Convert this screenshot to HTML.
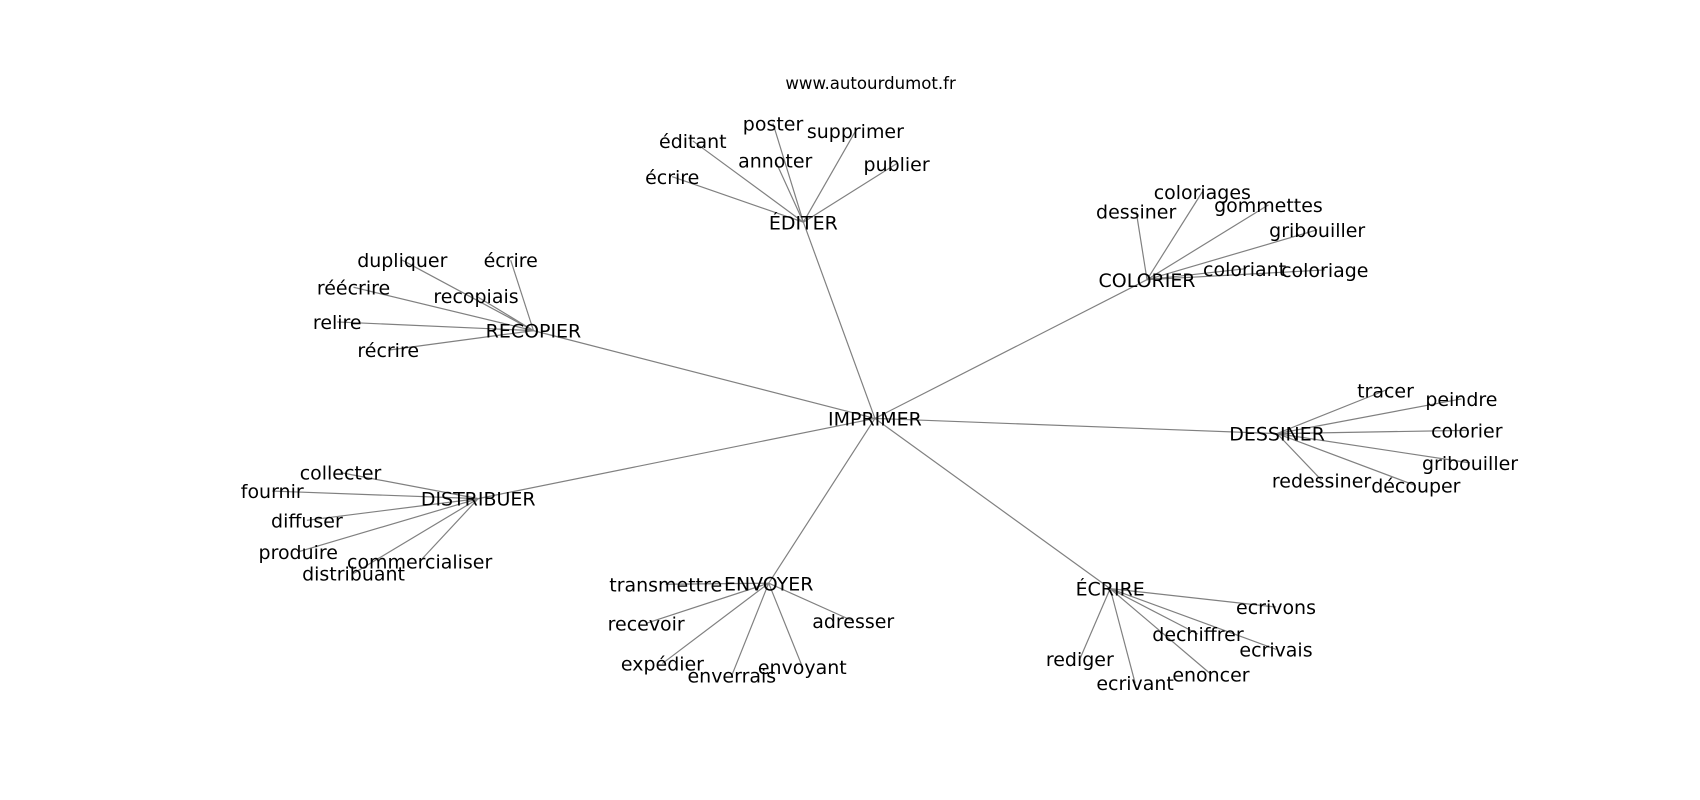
<!DOCTYPE html>
<html><head><meta charset="utf-8"><style>
html,body{margin:0;padding:0;background:#fff;width:1700px;height:800px;overflow:hidden}
svg text{font-family:"DejaVu Sans","Liberation Sans",sans-serif;font-size:17.5px;fill:#000;text-anchor:middle;dominant-baseline:central}
line{stroke:#808080;stroke-width:1.1}
</style></head><body>
<svg width="1700" height="800" viewBox="0 0 1568 738" xmlns="http://www.w3.org/2000/svg">
<g id="edges"></g>
<text x="803" y="77" style="font-size:15.3px">www.autourdumot.fr</text>
<g id="labels"></g>
</svg>
<script>
const C=[807,386];
const hubs={
"ÉDITER":[741,205,[["écrire",620,163],["éditant",639,130],["poster",713,114],["annoter",715,148],["supprimer",789,121],["publier",827,151]]],
"RECOPIER":[492,305,[["dupliquer",371,240],["écrire",471,240],["recopiais",439,273],["réécrire",326,265],["relire",311,297],["récrire",358,323]]],
"COLORIER":[1058,258,[["dessiner",1048,195],["coloriages",1109,177],["gommettes",1170,189],["gribouiller",1215,212],["coloriant",1148,248],["coloriage",1222,249]]],
"DESSINER":[1178,400,[["tracer",1278,360],["peindre",1348,368],["colorier",1353,397],["gribouiller",1356,427],["redessiner",1219,443],["découper",1306,448]]],
"ÉCRIRE":[1024,543,[["ecrivons",1177,560],["dechiffrer",1105,585],["ecrivais",1177,599],["rediger",996,608],["ecrivant",1047,630],["enoncer",1117,622]]],
"ENVOYER":[709,538,[["transmettre",614,539],["recevoir",596,575],["adresser",787,573],["expédier",611,612],["enverrais",675,623],["envoyant",740,615]]],
"DISTRIBUER":[441,460,[["collecter",314,436],["fournir",251,453],["diffuser",283,480],["produire",275,509],["distribuant",326,529],["commercialiser",387,518]]]
};
const NS="http://www.w3.org/2000/svg";
const E=document.getElementById("edges"),L=document.getElementById("labels");
function ln(a,b,c,d){const l=document.createElementNS(NS,"line");l.setAttribute("x1",a);l.setAttribute("y1",b);l.setAttribute("x2",c);l.setAttribute("y2",d);E.appendChild(l);}
function tx(t,x,y){const e=document.createElementNS(NS,"text");e.setAttribute("x",x);e.setAttribute("y",y+1);e.textContent=t;L.appendChild(e);}
tx("IMPRIMER",C[0],C[1]);
for(const k in hubs){const [x,y,leaves]=hubs[k];ln(C[0],C[1],x,y);tx(k,x,y);
for(const [t,lx,ly] of leaves){ln(x,y,lx,ly);tx(t,lx,ly);}}
</script>
</body></html>
